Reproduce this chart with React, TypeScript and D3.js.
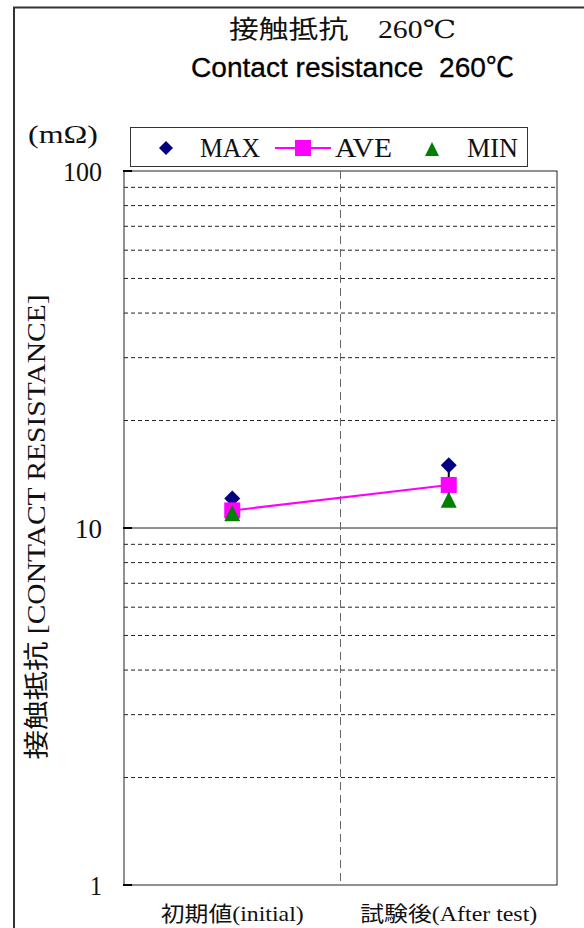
import React from "react";
import * as d3 from "d3";

const categories = ["初期値(initial)", "試験後(After test)"];
const maxValues = [12.1, 15.0];
const aveValues = [11.2, 13.2];
const minValues = [11.0, 12.0];
const yTickLabels = [1, 10, 100];
const gridValues = [2, 3, 4, 5, 6, 7, 8, 9, 20, 30, 40, 50, 60, 70, 80, 90];

const W = 584, H = 928;
const plot = { left: 124, right: 557, top: 171, bottom: 885 };
const serif = "'Liberation Serif', 'DejaVu Serif', 'Noto Sans CJK JP', serif";
const gothic = "'Liberation Sans', Arial, 'Noto Sans CJK JP', sans-serif";
const catWidths = [143, 177];
const tickWidths: Record<number, number> = { 1: 12, 10: 27, 100: 39 };

const diamondPath = (h: number) => `M0,${-h}L${h},0L0,${h}L${-h},0Z`;
const trianglePath = (h: number) => `M0,${-h}L${h},${h}L${-h},${h}Z`;

export default function App() {
  const y = d3.scaleLog().domain([1, 100]).range([plot.bottom, plot.top]);
  const x = d3.scaleBand().domain(categories).range([plot.left, plot.right]);
  const cx = (c: string) => (x(c) as number) + x.bandwidth() / 2;
  const line = d3.line<number>().x((_, i) => cx(categories[i])).y((d) => y(d));

  return (
    <svg width={W} height={H} style={{ position: "absolute", left: 0, top: 0, background: "#fff" }}>
      <rect x={14} y={7.5} width={W} height={H} fill="#fff" stroke="#333" strokeWidth={2} />
      <text x={229} y={38} fontFamily={serif} fontSize={25} fill="#111" textLength={227} lengthAdjust="spacingAndGlyphs">接触抵抗　260℃</text>
      <text x={191} y={77} fontFamily={gothic} fontSize={27} fill="#000" stroke="#000" strokeWidth={0.3} textLength={323} lengthAdjust="spacingAndGlyphs">{"Contact resistance\u00a0\u00a0260℃"}</text>
      <text x={28} y={143} fontFamily={serif} fontSize={26} fill="#111" textLength={70} lengthAdjust="spacingAndGlyphs">(mΩ)</text>

      {/* plot */}
      <rect x={plot.left} y={plot.top} width={plot.right - plot.left} height={plot.bottom - plot.top} fill="#fff" stroke="#222" strokeWidth={1} />
      {gridValues.map((v) => (
        <line key={v} x1={plot.left} x2={plot.right} y1={y(v)} y2={y(v)} stroke="#222" strokeWidth={1} strokeDasharray="4,3" />
      ))}
      <line x1={plot.left} x2={plot.right} y1={y(10)} y2={y(10)} stroke="#222" strokeWidth={1} />
      <line x1={(plot.left + plot.right) / 2} x2={(plot.left + plot.right) / 2} y1={plot.top} y2={plot.bottom} stroke="#666" strokeWidth={1} strokeDasharray="8,5" />
      {yTickLabels.map((v) => (
        <g key={v}>
          <line x1={plot.left - 1} x2={plot.left + 8} y1={y(v)} y2={y(v)} stroke="#000" strokeWidth={2} />
          <text x={102} y={y(v) + 10} textAnchor="end" fontFamily={serif} fontSize={28} fill="#111" textLength={tickWidths[v]} lengthAdjust="spacingAndGlyphs">{v}</text>
        </g>
      ))}
      <text transform={`translate(45,527) rotate(-90)`} textAnchor="middle" fontFamily={serif} fontSize={25} fill="#111" textLength={465} lengthAdjust="spacingAndGlyphs">接触抵抗 [CONTACT RESISTANCE]</text>
      {categories.map((c, i) => (
        <text key={c} x={cx(c)} y={921} textAnchor="middle" fontFamily={serif} fontSize={21} fill="#111" textLength={catWidths[i]} lengthAdjust="spacingAndGlyphs">{c}</text>
      ))}

      {/* hi-lo lines */}
      {categories.map((c, i) => (
        <line key={c} x1={cx(c)} x2={cx(c)} y1={y(maxValues[i])} y2={y(minValues[i])} stroke="#000" strokeWidth={2} />
      ))}
      <path d={line(aveValues) as string} fill="none" stroke="#ff00ff" strokeWidth={2} />
      {categories.map((c, i) => (
        <g key={c}>
          <path d={diamondPath(8)} transform={`translate(${cx(c)},${y(maxValues[i])})`} fill="#000080" />
          <rect x={cx(c) - 8} y={y(aveValues[i]) - 8} width={16} height={16} fill="#ff00ff" />
          <path d={trianglePath(8)} transform={`translate(${cx(c)},${y(minValues[i])})`} fill="#008000" />
        </g>
      ))}

      {/* legend */}
      <rect x={130.5} y={127.5} width={397} height={39} fill="#fff" stroke="#333" strokeWidth={1} />
      <path d={diamondPath(7)} transform="translate(166,148)" fill="#000080" />
      <text x={200} y={157} fontFamily={serif} fontSize={27} fill="#111" textLength={60} lengthAdjust="spacingAndGlyphs">MAX</text>
      <line x1={275} x2={331} y1={148} y2={148} stroke="#ff00ff" strokeWidth={2} />
      <rect x={295} y={140} width={16} height={16} fill="#ff00ff" />
      <text x={335} y={157} fontFamily={serif} fontSize={27} fill="#111" textLength={57} lengthAdjust="spacingAndGlyphs">AVE</text>
      <path d={trianglePath(7)} transform="translate(432,149)" fill="#008000" />
      <text x={467} y={157} fontFamily={serif} fontSize={27} fill="#111" textLength={51} lengthAdjust="spacingAndGlyphs">MIN</text>
    </svg>
  );
}
